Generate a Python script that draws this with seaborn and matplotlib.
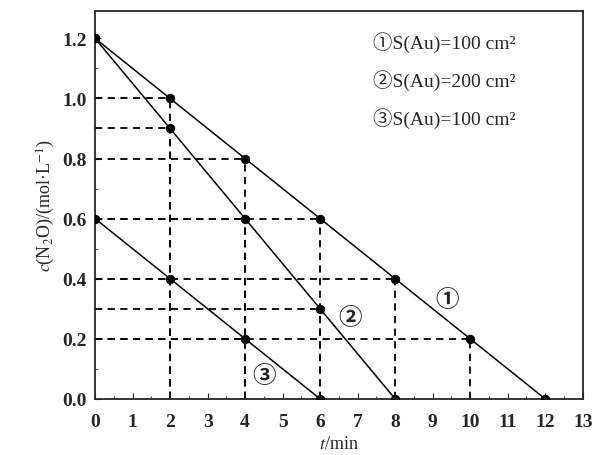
import seaborn as sns
import matplotlib.pyplot as plt
import pandas as pd
from matplotlib.ticker import MultipleLocator

# data
t1 = [0, 2, 4, 6, 8, 10, 12]
c1 = [1.2, 1.0, 0.8, 0.6, 0.4, 0.2, 0.0]
t2 = [0, 2, 4, 6, 8]
c2 = [1.2, 0.9, 0.6, 0.3, 0.0]
t3 = [0, 2, 4, 6]
c3 = [0.6, 0.4, 0.2, 0.0]
series_names = ["1", "2", "3"]
legend_texts = ["①S(Au)=100 cm²", "②S(Au)=200 cm²", "③S(Au)=100 cm²"]
curve_marks = ["①", "②", "③"]
mark_pos = [(9.4, 0.33), (6.8, 0.27), (4.5, 0.075)]

df = pd.concat([
    pd.DataFrame({"t": t1, "c": c1, "s": series_names[0]}),
    pd.DataFrame({"t": t2, "c": c2, "s": series_names[1]}),
    pd.DataFrame({"t": t3, "c": c3, "s": series_names[2]}),
])

sns.set_style("ticks")
plt.rcParams['font.family'] = ['Liberation Serif', 'Noto Sans CJK SC', 'DejaVu Sans']
plt.rcParams['mathtext.fontset'] = 'stix'

fig = plt.figure(figsize=(5.94, 4.56), dpi=100)
ax = fig.add_axes([0.16, 0.123, 0.821, 0.85])

# dashed guide lines from every point to the axes
for _, row in df.iterrows():
    if row["t"] > 0 and row["c"] > 0:
        ax.plot([0, row["t"]], [row["c"], row["c"]], ls=(0, (4, 3)), color="black", lw=1.3, zorder=1)
        ax.plot([row["t"], row["t"]], [0, row["c"]], ls=(0, (4, 3)), color="black", lw=1.3, zorder=1)

sns.lineplot(data=df, x="t", y="c", units="s", estimator=None, color="black", lw=1.1,
             marker="o", markersize=6, markeredgecolor="black", ax=ax, zorder=3)

ax.set_xlim(0, 13)
ax.set_ylim(0, 1.29)
ax.xaxis.set_major_locator(MultipleLocator(1))
ax.xaxis.set_minor_locator(MultipleLocator(0.5))
ax.yaxis.set_major_locator(MultipleLocator(0.2))
ax.yaxis.set_minor_locator(MultipleLocator(0.1))
ax.yaxis.set_major_formatter(lambda v, p: f"{v:.1f}")
ax.tick_params(which="both", direction="in", labelsize=14)
ax.tick_params(which="major", length=4)
ax.tick_params(which="minor", length=2)
ax.tick_params(axis="x", pad=10)
ax.tick_params(axis="y", pad=6)
for lab in ax.get_xticklabels() + ax.get_yticklabels():
    lab.set_fontweight("bold")
for sp in ax.spines.values():
    sp.set_linewidth(1.3)

ax.set_xlabel("$t$/min", fontsize=13, labelpad=4)
ax.set_ylabel("$c$(N$_2$O)/(mol·L$^{-1}$)", fontsize=13)

for i, txt in enumerate(legend_texts):
    ax.text(0.57, 0.923 - i * 0.098, txt, transform=ax.transAxes, fontsize=14, va="center")

for m, (x, y) in zip(curve_marks, mark_pos):
    ax.text(x, y, m, fontsize=17, fontweight="bold", ha="center", va="center")

fig.savefig("out.png", dpi=100)
